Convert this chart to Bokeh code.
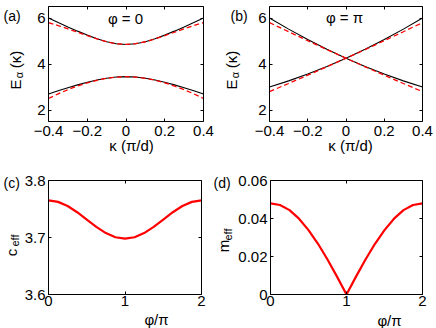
import math
from bokeh.plotting import figure
from bokeh.models import (Label, LinearAxis, FixedTicker, CustomJSTickFormatter,
                          Range1d, PrintfTickFormatter, BasicTickFormatter)
from bokeh.layouts import column, row
from bokeh.embed import file_html
from bokeh.resources import INLINE

# ---------------- data ----------------
kappa_a = [-0.40, -0.35, -0.30, -0.25, -0.20, -0.15, -0.10, -0.05, 0.00,
           0.05, 0.10, 0.15, 0.20, 0.25, 0.30, 0.35, 0.40]
upper_exact_a = [6.000, 5.804, 5.612, 5.429, 5.256, 5.100, 4.970, 4.882, 4.850,
                 4.882, 4.970, 5.100, 5.256, 5.429, 5.612, 5.804, 6.000]
lower_exact_a = [2.700, 2.837, 2.968, 3.092, 3.205, 3.303, 3.381, 3.432, 3.450,
                 3.432, 3.381, 3.303, 3.205, 3.092, 2.968, 2.837, 2.700]
upper_approx_a = [5.800, 5.670, 5.528, 5.380, 5.231, 5.090, 4.967, 4.882, 4.850,
                  4.882, 4.967, 5.090, 5.231, 5.380, 5.528, 5.670, 5.800]
lower_approx_a = [2.500, 2.703, 2.884, 3.043, 3.180, 3.293, 3.378, 3.432, 3.450,
                  3.432, 3.378, 3.293, 3.180, 3.043, 2.884, 2.703, 2.500]

kappa_b = [-0.4, -0.3, -0.2, -0.1, 0.0, 0.1, 0.2, 0.3, 0.4]
down_exact_b = [6.000, 5.516, 5.063, 4.641, 4.250, 3.891, 3.563, 3.266, 3.000]
up_exact_b = [3.000, 3.266, 3.563, 3.891, 4.250, 4.641, 5.063, 5.516, 6.000]
down_approx_b = [5.800, 5.403, 5.013, 4.628, 4.250, 3.878, 3.513, 3.153, 2.800]
up_approx_b = [2.800, 3.153, 3.513, 3.878, 4.250, 4.628, 5.013, 5.403, 5.800]

phi = [0.0, 0.125, 0.25, 0.375, 0.5, 0.625, 0.75, 0.875, 1.0,
       1.125, 1.25, 1.375, 1.5, 1.625, 1.75, 1.875, 2.0]
c_eff = [3.7650, 3.7625, 3.7552, 3.7443, 3.7315, 3.7187, 3.7078, 3.7005, 3.6980,
         3.7005, 3.7078, 3.7187, 3.7315, 3.7443, 3.7552, 3.7625, 3.7650]
m_eff = [0.0480, 0.0471, 0.0444, 0.0399, 0.0339, 0.0267, 0.0184, 0.0094, 0.0000,
         0.0094, 0.0184, 0.0267, 0.0339, 0.0399, 0.0444, 0.0471, 0.0480]

kappa_lim = (-0.4, 0.4)
energy_lim = (1.5, 6.5)
phi_lim = (0.0, 2.0)
c_lim = (3.6, 3.8)
m_lim = (0.0, 0.06)

kappa_ticks = [-0.4, -0.2, 0.0, 0.2, 0.4]
energy_ticks = [2, 4, 6]
phi_ticks = [0, 1, 2]
c_ticks = [3.6, 3.7, 3.8]
m_ticks = [0, 0.02, 0.04, 0.06]

FONT = "Liberation Sans"
TICK_FS = "15px"


class Panel:
    """A figure whose frame fills its canvas; the axes box is placed inside it."""

    def __init__(self, canvas, box, xlim, ylim, xticks, yticks, xfmt, yfmt, xstand):
        cx, cy, cw, ch = canvas
        bl, bt, br, bb = box
        x0, x1 = xlim
        y0, y1 = ylim
        self.sx = (x1 - x0) / (br - bl)
        self.sy = (y1 - y0) / (bb - bt)
        self.cx, self.cy = cx, cy
        self.xr0 = x0 - (bl - cx) * self.sx
        xr1 = x1 + (cx + cw - br) * self.sx
        self.yr1 = y1 + (bt - cy) * self.sy
        yr0 = y0 - (cy + ch - bb) * self.sy
        p = figure(width=cw, height=ch, min_border=0,
                   x_range=Range1d(self.xr0, xr1), y_range=Range1d(yr0, self.yr1),
                   x_axis_location=None, y_axis_location=None,
                   output_backend="svg", toolbar_location=None,
                   outline_line_color=None,
                   background_fill_color="white", border_fill_color="white")
        p.grid.visible = False
        specs = [
            ("below", xticks, xlim, y0, True, xfmt, xstand),
            ("left", yticks, ylim, x0, True, yfmt, 3),
            ("above", xticks, xlim, y1, False, None, 0),
            ("right", yticks, ylim, x1, False, None, 0),
        ]
        for side, ticks, bounds, loc, show, fmt, stand in specs:
            ax = LinearAxis(ticker=FixedTicker(ticks=ticks), fixed_location=loc,
                            bounds=bounds,
                            major_tick_in=3, major_tick_out=0,
                            major_tick_line_color="black",
                            minor_tick_line_color=None,
                            axis_line_color="black", axis_line_width=1,
                            major_label_standoff=stand,
                            major_label_text_font=FONT,
                            major_label_text_color="black" if show else None,
                            major_label_text_font_size=TICK_FS if show else "0px")
            if fmt is not None:
                ax.formatter = fmt
            p.add_layout(ax, side)
        self.p = p

    def text(self, txt, px, py, size="15px", align="center", baseline="middle", angle=0.0):
        x = self.xr0 + (px - self.cx) * self.sx
        y = self.yr1 - (py - self.cy) * self.sy
        self.p.add_layout(Label(x=x, y=y, text=txt, text_font=FONT, text_font_size=size,
                                text_align=align, text_baseline=baseline, angle=angle,
                                text_color="black"))

    def vtext(self, txt, base_x, center_y, size="15px"):
        self.text(txt, base_x, center_y, size=size, align="center",
                  baseline="alphabetic", angle=math.pi / 2)


kappa_fmt = CustomJSTickFormatter(code="""
if (Math.abs(tick) < 1e-9) { return "0"; }
return tick.toFixed(1).replace("-", "\u2212");
""")

# ---------------- panel (a) ----------------
A = Panel((0, 0, 218, 164), (48, 6, 203, 121), kappa_lim, energy_lim,
          kappa_ticks, energy_ticks, kappa_fmt, BasicTickFormatter(), 4)
A.p.line(kappa_a, upper_exact_a, line_color="black", line_width=1.1)
A.p.line(kappa_a, lower_exact_a, line_color="black", line_width=1.1)
A.p.line(kappa_a, upper_approx_a, line_color="red", line_width=1.3, line_dash="5 3")
A.p.line(kappa_a, lower_approx_a, line_color="red", line_width=1.3, line_dash="5 3")
A.text("(a)", 3, 15, size="14px", align="left")
A.text("φ = 0", 125, 18)
A.text("κ (π/d)", 131, 145)
A.vtext("E", 15, 84)
A.vtext("α", 18.5, 74.5, size="11px")
A.vtext("(κ)", 15, 59)

# ---------------- panel (b) ----------------
B = Panel((218, 0, 218, 164), (269, 6, 422, 121), kappa_lim, energy_lim,
          kappa_ticks, energy_ticks, kappa_fmt, BasicTickFormatter(), 4)
B.p.line(kappa_b, down_exact_b, line_color="black", line_width=1.1)
B.p.line(kappa_b, up_exact_b, line_color="black", line_width=1.1)
B.p.line(kappa_b, down_approx_b, line_color="red", line_width=1.3, line_dash="5 3")
B.p.line(kappa_b, up_approx_b, line_color="red", line_width=1.3, line_dash="5 3")
B.text("(b)", 230, 15, size="14px", align="left")
B.text("φ = π", 344, 17)
B.text("κ (π/d)", 350, 145)
B.vtext("E", 231, 84)
B.vtext("α", 234.5, 74.5, size="11px")
B.vtext("(κ)", 231, 59)

# ---------------- panel (c) ----------------
C = Panel((0, 164, 212, 164), (48, 180, 201, 294), phi_lim, c_lim,
          phi_ticks, c_ticks, BasicTickFormatter(), PrintfTickFormatter(format="%.1f"), 1)
C.p.line(phi, c_eff, line_color="red", line_width=2.2)
C.text("(c)", 3, 182, size="14px", align="left")
C.text("φ/π", 156, 319)
C.vtext("c", 10.5, 252)
C.vtext("eff", 14.5, 240, size="11px")

# ---------------- panel (d) ----------------
D = Panel((212, 164, 224, 164), (270, 180, 422, 294), phi_lim, m_lim,
          phi_ticks, m_ticks, BasicTickFormatter(), PrintfTickFormatter(format="%g"), 1)
D.p.line(phi, m_eff, line_color="red", line_width=2.2)
D.text("(d)", 213, 182, size="14px", align="left")
D.text("φ/π", 389, 320)
D.vtext("m", 223, 245.5)
D.vtext("eff", 227, 234, size="11px")

layout = column(row(A.p, B.p, spacing=0), row(C.p, D.p, spacing=0), spacing=0)

open("out.html", "w").write(file_html(layout, INLINE))
